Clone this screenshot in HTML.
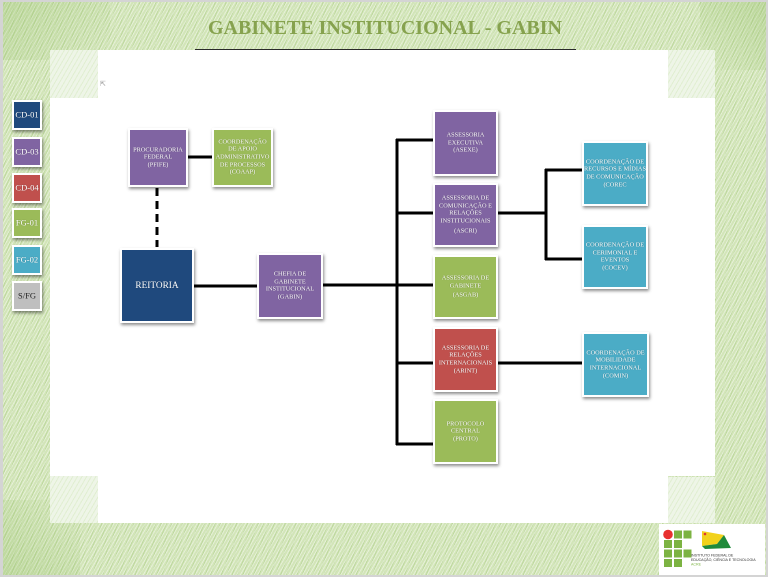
<!DOCTYPE html>
<html><head><meta charset="utf-8"><style>
html,body{margin:0;padding:0;}
body{width:768px;height:577px;position:relative;overflow:hidden;background:#fff;font-family:"Liberation Serif",serif;}
.abs{position:absolute;}
.bg{left:0;top:0;width:768px;height:577px;background:
 repeating-linear-gradient(120deg, rgba(255,255,255,.42) 0 1px, rgba(255,255,255,0) 1px 3px),
 repeating-linear-gradient(112deg, rgba(120,170,70,.22) 0 1px, rgba(0,0,0,0) 1px 5px),
 #d2e5b8;}
.pale{background:
 repeating-linear-gradient(120deg, rgba(200,225,170,.35) 0 1px, rgba(255,255,255,0) 1px 4px),
 #eef5e7;}
.white{background:#fff;}
.frame{left:0;top:0;width:768px;height:577px;box-sizing:border-box;border:2px solid #d4d4d4;border-left-width:3px;pointer-events:none;z-index:50;}
.title{left:0;width:770px;top:18px;text-align:center;font-size:20px;line-height:20px;font-weight:bold;color:#86a24e;white-space:nowrap;}
.rule{left:195px;top:49px;width:381px;height:1px;background:#2a2a2a;}
.n{position:absolute;box-sizing:border-box;border:2px solid #fff;box-shadow:1px 2px 3px rgba(0,0,0,.45);z-index:5;}
.n span{position:absolute;left:50%;top:50%;transform:translate(-50%,-50%);white-space:nowrap;text-align:center;color:#fff;font-size:6.3px;line-height:7.7px;text-shadow:0 0 1px rgba(0,0,0,.35);}
.pu{background:#8064a2;}
.gr{background:#9bbb59;}
.bl{background:#1f497d;}
.rd{background:#c0504d;}
.cy{background:#4bacc6;}
.gy{background:#bfbfbf;}
.lg span{font-size:8.5px;line-height:9px;}
.lines{left:0;top:0;z-index:3;}
</style></head><body>
<div class="abs bg"></div>
<div class="abs" style="left:0;top:0;width:110px;height:60px;background:linear-gradient(135deg,rgba(130,180,80,.28),rgba(130,180,80,0));"></div>
<div class="abs" style="left:700px;top:0;width:68px;height:70px;background:linear-gradient(225deg,rgba(130,180,80,.3),rgba(130,180,80,0));"></div>
<div class="abs" style="left:0;top:500px;width:80px;height:77px;background:linear-gradient(45deg,rgba(130,180,80,.28),rgba(130,180,80,0));"></div>
<div class="abs pale" style="left:50px;top:50px;width:48px;height:48px;"></div>
<div class="abs pale" style="left:668px;top:50px;width:47px;height:48px;"></div>
<div class="abs pale" style="left:50px;top:475px;width:48px;height:48px;"></div>
<div class="abs pale" style="left:668px;top:477px;width:47px;height:46px;"></div>
<div class="abs white" style="left:98px;top:50px;width:570px;height:473px;"></div>
<div class="abs white" style="left:50px;top:98px;width:665px;height:378px;"></div>

<div class="abs title">GABINETE INSTITUCIONAL - GABIN</div>
<div class="abs rule"></div>
<div class="abs" style="left:100px;top:80px;font-size:7px;color:#999;">&#8689;</div>

<!-- legend -->
<div class="n bl lg" style="left:12px;top:100px;width:30px;height:30px;"><span>CD-01</span></div>
<div class="n pu lg" style="left:12px;top:137px;width:30px;height:30px;"><span>CD-03</span></div>
<div class="n rd lg" style="left:12px;top:173px;width:30px;height:30px;"><span>CD-04</span></div>
<div class="n gr lg" style="left:12px;top:208px;width:30px;height:30px;"><span>FG-01</span></div>
<div class="n cy lg" style="left:12px;top:245px;width:30px;height:30px;"><span>FG-02</span></div>
<div class="n gy lg" style="left:12px;top:281px;width:30px;height:30px;"><span style="color:#222;text-shadow:none;">S/FG</span></div>

<!-- connectors -->
<svg class="abs lines" width="768" height="577" viewBox="0 0 768 577">
 <g stroke="#000" stroke-width="3" fill="none">
  <line x1="188" y1="157" x2="212" y2="157"/>
  <line x1="157" y1="188" x2="157" y2="247" stroke-dasharray="8 5"/>
  <line x1="194" y1="286" x2="257" y2="286"/>
  <line x1="323" y1="285" x2="433" y2="285"/>
  <line x1="397" y1="139" x2="397" y2="445"/>
  <line x1="396" y1="140" x2="433" y2="140"/>
  <line x1="396" y1="213" x2="433" y2="213"/>
  <line x1="396" y1="363" x2="433" y2="363"/>
  <line x1="396" y1="444" x2="433" y2="444"/>
  <line x1="498" y1="363" x2="582" y2="363"/>
  <line x1="498" y1="213" x2="546" y2="213"/>
  <line x1="546" y1="169" x2="546" y2="260"/>
  <line x1="545" y1="170" x2="582" y2="170"/>
  <line x1="545" y1="259" x2="582" y2="259"/>
 </g>
</svg>

<!-- nodes -->
<div class="n pu" style="left:128px;top:128px;width:60px;height:59px;"><span>PROCURADORIA<br>FEDERAL<br>(PFIFE)</span></div>
<div class="n gr" style="left:212px;top:128px;width:61px;height:59px;"><span>COORDENAÇÃO<br>DE APOIO<br>ADMINISTRATIVO<br>DE PROCESSOS<br>(COAAP)</span></div>
<div class="n bl" style="left:120px;top:248px;width:74px;height:75px;"><span style="font-size:9.3px;line-height:10px;">REITORIA</span></div>
<div class="n pu" style="left:257px;top:253px;width:66px;height:66px;"><span>CHEFIA DE<br>GABINETE<br>INSTITUCIONAL<br>(GABIN)</span></div>

<div class="n pu" style="left:433px;top:110px;width:65px;height:66px;"><span>ASSESSORIA<br>EXECUTIVA<br>(ASEXE)</span></div>
<div class="n pu" style="left:433px;top:183px;width:65px;height:64px;"><span>ASSESSORIA DE<br>COMUNICAÇÃO E<br>RELAÇÕES<br>INSTITUCIONAIS<div style="margin-top:2px;">(ASCRI)</div></span></div>
<div class="n gr" style="left:433px;top:255px;width:65px;height:64px;"><span>ASSESSORIA DE<br>GABINETE<div style="margin-top:2px;">(ASGAB)</div></span></div>
<div class="n rd" style="left:433px;top:327px;width:65px;height:65px;"><span>ASSESSORIA DE<br>RELAÇÕES<br>INTERNACIONAIS<br>(ARINT)</span></div>
<div class="n gr" style="left:433px;top:399px;width:65px;height:65px;"><span>PROTOCOLO<br>CENTRAL<br>(PROTO)</span></div>

<div class="n cy" style="left:582px;top:141px;width:66px;height:65px;"><span>COORDENAÇÃO DE<br>RECURSOS E MÍDIAS<br>DE COMUNICAÇÃO<br>(COREC</span></div>
<div class="n cy" style="left:582px;top:225px;width:66px;height:64px;"><span>COORDENAÇÃO DE<br>CERIMONIAL E<br>EVENTOS<br>(COCEV)</span></div>
<div class="n cy" style="left:582px;top:332px;width:67px;height:65px;"><span>COORDENAÇÃO DE<br>MOBILIDADE<br>INTERNACIONAL<br>(COMIN)</span></div>

<!-- logo -->
<div class="abs" style="left:659px;top:524px;width:106px;height:51px;background:#fff;z-index:6;">
 <svg width="106" height="51" viewBox="0 0 106 51" style="position:absolute;left:0;top:0;">
  <circle cx="9" cy="10.5" r="4.8" fill="#e8302f"/>
  <g fill="#7cb342">
   <rect x="15" y="6.5" width="8" height="8"/>
   <rect x="24.5" y="6.5" width="8" height="8"/>
   <rect x="5" y="16" width="8" height="8"/>
   <rect x="15" y="16" width="8" height="8"/>
   <rect x="5" y="25.5" width="8" height="8"/>
   <rect x="15" y="25.5" width="8" height="8"/>
   <rect x="24.5" y="25.5" width="8" height="8"/>
   <rect x="5" y="35" width="8" height="8"/>
   <rect x="15" y="35" width="8" height="8"/>
  </g>
  <polygon points="43,7 65,11 58,20 43,22" fill="#f2d21b"/>
  <polygon points="43,22 58,20 65,11 72,24 46,25" fill="#1f8a3a"/>
  <circle cx="46" cy="10" r="1.3" fill="#d33"/>
  <text x="32" y="32.5" font-family="Liberation Sans, sans-serif" font-size="3.6" fill="#333">INSTITUTO FEDERAL DE</text>
  <text x="32" y="37" font-family="Liberation Sans, sans-serif" font-size="3.6" fill="#333">EDUCAÇÃO, CIÊNCIA E TECNOLOGIA</text>
  <text x="32" y="41.5" font-family="Liberation Sans, sans-serif" font-size="3.6" fill="#7cb342">ACRE</text>
 </svg>
</div>

<div class="abs frame"></div>
</body></html>
